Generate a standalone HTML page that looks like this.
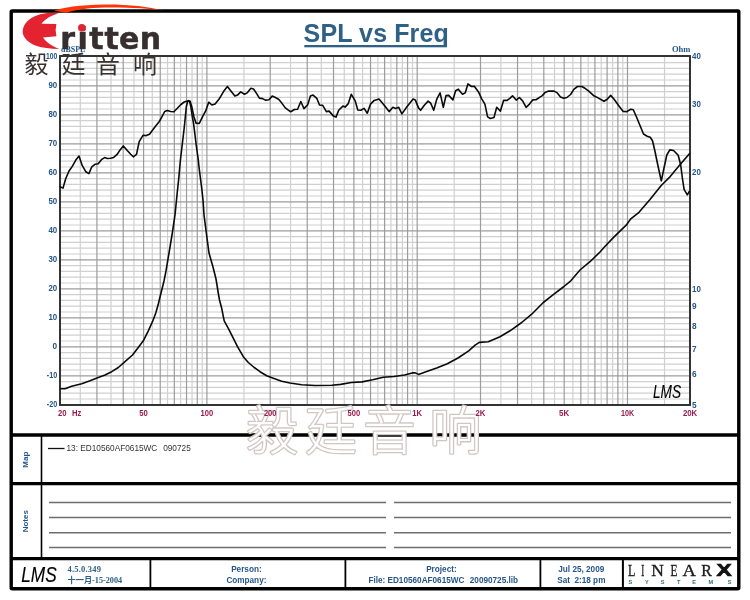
<!DOCTYPE html><html><head><meta charset="utf-8"><title>SPL vs Freq</title><style>html,body{margin:0;padding:0;background:#fff;width:750px;height:600px;overflow:hidden}svg{display:block}</style></head><body>
<svg width="750" height="600" viewBox="0 0 750 600">
<rect width="750" height="600" fill="#fff"/>
<g>
<line x1="60.0" y1="399.00" x2="690.0" y2="399.00" stroke="#d0d0d0" stroke-width="1.2"/>
<line x1="60.0" y1="393.20" x2="690.0" y2="393.20" stroke="#d0d0d0" stroke-width="1.2"/>
<line x1="60.0" y1="387.40" x2="690.0" y2="387.40" stroke="#d0d0d0" stroke-width="1.2"/>
<line x1="60.0" y1="381.60" x2="690.0" y2="381.60" stroke="#d0d0d0" stroke-width="1.2"/>
<line x1="60.0" y1="370.00" x2="690.0" y2="370.00" stroke="#d0d0d0" stroke-width="1.2"/>
<line x1="60.0" y1="364.20" x2="690.0" y2="364.20" stroke="#d0d0d0" stroke-width="1.2"/>
<line x1="60.0" y1="358.40" x2="690.0" y2="358.40" stroke="#d0d0d0" stroke-width="1.2"/>
<line x1="60.0" y1="352.60" x2="690.0" y2="352.60" stroke="#d0d0d0" stroke-width="1.2"/>
<line x1="60.0" y1="341.00" x2="690.0" y2="341.00" stroke="#d0d0d0" stroke-width="1.2"/>
<line x1="60.0" y1="335.20" x2="690.0" y2="335.20" stroke="#d0d0d0" stroke-width="1.2"/>
<line x1="60.0" y1="329.40" x2="690.0" y2="329.40" stroke="#d0d0d0" stroke-width="1.2"/>
<line x1="60.0" y1="323.60" x2="690.0" y2="323.60" stroke="#d0d0d0" stroke-width="1.2"/>
<line x1="60.0" y1="312.00" x2="690.0" y2="312.00" stroke="#d0d0d0" stroke-width="1.2"/>
<line x1="60.0" y1="306.20" x2="690.0" y2="306.20" stroke="#d0d0d0" stroke-width="1.2"/>
<line x1="60.0" y1="300.40" x2="690.0" y2="300.40" stroke="#d0d0d0" stroke-width="1.2"/>
<line x1="60.0" y1="294.60" x2="690.0" y2="294.60" stroke="#d0d0d0" stroke-width="1.2"/>
<line x1="60.0" y1="283.00" x2="690.0" y2="283.00" stroke="#d0d0d0" stroke-width="1.2"/>
<line x1="60.0" y1="277.20" x2="690.0" y2="277.20" stroke="#d0d0d0" stroke-width="1.2"/>
<line x1="60.0" y1="271.40" x2="690.0" y2="271.40" stroke="#d0d0d0" stroke-width="1.2"/>
<line x1="60.0" y1="265.60" x2="690.0" y2="265.60" stroke="#d0d0d0" stroke-width="1.2"/>
<line x1="60.0" y1="254.00" x2="690.0" y2="254.00" stroke="#d0d0d0" stroke-width="1.2"/>
<line x1="60.0" y1="248.20" x2="690.0" y2="248.20" stroke="#d0d0d0" stroke-width="1.2"/>
<line x1="60.0" y1="242.40" x2="690.0" y2="242.40" stroke="#d0d0d0" stroke-width="1.2"/>
<line x1="60.0" y1="236.60" x2="690.0" y2="236.60" stroke="#d0d0d0" stroke-width="1.2"/>
<line x1="60.0" y1="225.00" x2="690.0" y2="225.00" stroke="#d0d0d0" stroke-width="1.2"/>
<line x1="60.0" y1="219.20" x2="690.0" y2="219.20" stroke="#d0d0d0" stroke-width="1.2"/>
<line x1="60.0" y1="213.40" x2="690.0" y2="213.40" stroke="#d0d0d0" stroke-width="1.2"/>
<line x1="60.0" y1="207.60" x2="690.0" y2="207.60" stroke="#d0d0d0" stroke-width="1.2"/>
<line x1="60.0" y1="196.00" x2="690.0" y2="196.00" stroke="#d0d0d0" stroke-width="1.2"/>
<line x1="60.0" y1="190.20" x2="690.0" y2="190.20" stroke="#d0d0d0" stroke-width="1.2"/>
<line x1="60.0" y1="184.40" x2="690.0" y2="184.40" stroke="#d0d0d0" stroke-width="1.2"/>
<line x1="60.0" y1="178.60" x2="690.0" y2="178.60" stroke="#d0d0d0" stroke-width="1.2"/>
<line x1="60.0" y1="167.00" x2="690.0" y2="167.00" stroke="#d0d0d0" stroke-width="1.2"/>
<line x1="60.0" y1="161.20" x2="690.0" y2="161.20" stroke="#d0d0d0" stroke-width="1.2"/>
<line x1="60.0" y1="155.40" x2="690.0" y2="155.40" stroke="#d0d0d0" stroke-width="1.2"/>
<line x1="60.0" y1="149.60" x2="690.0" y2="149.60" stroke="#d0d0d0" stroke-width="1.2"/>
<line x1="60.0" y1="138.00" x2="690.0" y2="138.00" stroke="#d0d0d0" stroke-width="1.2"/>
<line x1="60.0" y1="132.20" x2="690.0" y2="132.20" stroke="#d0d0d0" stroke-width="1.2"/>
<line x1="60.0" y1="126.40" x2="690.0" y2="126.40" stroke="#d0d0d0" stroke-width="1.2"/>
<line x1="60.0" y1="120.60" x2="690.0" y2="120.60" stroke="#d0d0d0" stroke-width="1.2"/>
<line x1="60.0" y1="109.00" x2="690.0" y2="109.00" stroke="#d0d0d0" stroke-width="1.2"/>
<line x1="60.0" y1="103.20" x2="690.0" y2="103.20" stroke="#d0d0d0" stroke-width="1.2"/>
<line x1="60.0" y1="97.40" x2="690.0" y2="97.40" stroke="#d0d0d0" stroke-width="1.2"/>
<line x1="60.0" y1="91.60" x2="690.0" y2="91.60" stroke="#d0d0d0" stroke-width="1.2"/>
<line x1="60.0" y1="80.00" x2="690.0" y2="80.00" stroke="#d0d0d0" stroke-width="1.2"/>
<line x1="60.0" y1="74.20" x2="690.0" y2="74.20" stroke="#d0d0d0" stroke-width="1.2"/>
<line x1="60.0" y1="68.40" x2="690.0" y2="68.40" stroke="#d0d0d0" stroke-width="1.2"/>
<line x1="60.0" y1="62.60" x2="690.0" y2="62.60" stroke="#d0d0d0" stroke-width="1.2"/>
<line x1="80.28" y1="56.0" x2="80.28" y2="405.0" stroke="#d0d0d0" stroke-width="1.2"/>
<line x1="96.93" y1="56.0" x2="96.93" y2="405.0" stroke="#9c9c9c" stroke-width="1.2"/>
<line x1="111.01" y1="56.0" x2="111.01" y2="405.0" stroke="#d0d0d0" stroke-width="1.2"/>
<line x1="123.21" y1="56.0" x2="123.21" y2="405.0" stroke="#9c9c9c" stroke-width="1.2"/>
<line x1="133.96" y1="56.0" x2="133.96" y2="405.0" stroke="#d0d0d0" stroke-width="1.2"/>
<line x1="143.59" y1="56.0" x2="143.59" y2="405.0" stroke="#9c9c9c" stroke-width="1.2"/>
<line x1="152.29" y1="56.0" x2="152.29" y2="405.0" stroke="#d0d0d0" stroke-width="1.2"/>
<line x1="160.24" y1="56.0" x2="160.24" y2="405.0" stroke="#9c9c9c" stroke-width="1.2"/>
<line x1="167.55" y1="56.0" x2="167.55" y2="405.0" stroke="#d0d0d0" stroke-width="1.2"/>
<line x1="174.32" y1="56.0" x2="174.32" y2="405.0" stroke="#9c9c9c" stroke-width="1.2"/>
<line x1="180.62" y1="56.0" x2="180.62" y2="405.0" stroke="#d0d0d0" stroke-width="1.2"/>
<line x1="186.51" y1="56.0" x2="186.51" y2="405.0" stroke="#9c9c9c" stroke-width="1.2"/>
<line x1="192.05" y1="56.0" x2="192.05" y2="405.0" stroke="#d0d0d0" stroke-width="1.2"/>
<line x1="197.27" y1="56.0" x2="197.27" y2="405.0" stroke="#9c9c9c" stroke-width="1.2"/>
<line x1="202.21" y1="56.0" x2="202.21" y2="405.0" stroke="#d0d0d0" stroke-width="1.2"/>
<line x1="206.89" y1="56.0" x2="206.89" y2="405.0" stroke="#9c9c9c" stroke-width="1.2"/>
<line x1="243.93" y1="56.0" x2="243.93" y2="405.0" stroke="#d0d0d0" stroke-width="1.2"/>
<line x1="270.20" y1="56.0" x2="270.20" y2="405.0" stroke="#9c9c9c" stroke-width="1.2"/>
<line x1="290.58" y1="56.0" x2="290.58" y2="405.0" stroke="#d0d0d0" stroke-width="1.2"/>
<line x1="307.23" y1="56.0" x2="307.23" y2="405.0" stroke="#9c9c9c" stroke-width="1.2"/>
<line x1="321.31" y1="56.0" x2="321.31" y2="405.0" stroke="#d0d0d0" stroke-width="1.2"/>
<line x1="333.51" y1="56.0" x2="333.51" y2="405.0" stroke="#9c9c9c" stroke-width="1.2"/>
<line x1="344.26" y1="56.0" x2="344.26" y2="405.0" stroke="#d0d0d0" stroke-width="1.2"/>
<line x1="353.89" y1="56.0" x2="353.89" y2="405.0" stroke="#9c9c9c" stroke-width="1.2"/>
<line x1="362.59" y1="56.0" x2="362.59" y2="405.0" stroke="#d0d0d0" stroke-width="1.2"/>
<line x1="370.54" y1="56.0" x2="370.54" y2="405.0" stroke="#9c9c9c" stroke-width="1.2"/>
<line x1="377.85" y1="56.0" x2="377.85" y2="405.0" stroke="#d0d0d0" stroke-width="1.2"/>
<line x1="384.62" y1="56.0" x2="384.62" y2="405.0" stroke="#9c9c9c" stroke-width="1.2"/>
<line x1="390.92" y1="56.0" x2="390.92" y2="405.0" stroke="#d0d0d0" stroke-width="1.2"/>
<line x1="396.81" y1="56.0" x2="396.81" y2="405.0" stroke="#9c9c9c" stroke-width="1.2"/>
<line x1="402.35" y1="56.0" x2="402.35" y2="405.0" stroke="#d0d0d0" stroke-width="1.2"/>
<line x1="407.57" y1="56.0" x2="407.57" y2="405.0" stroke="#9c9c9c" stroke-width="1.2"/>
<line x1="412.51" y1="56.0" x2="412.51" y2="405.0" stroke="#d0d0d0" stroke-width="1.2"/>
<line x1="417.19" y1="56.0" x2="417.19" y2="405.0" stroke="#9c9c9c" stroke-width="1.2"/>
<line x1="454.23" y1="56.0" x2="454.23" y2="405.0" stroke="#d0d0d0" stroke-width="1.2"/>
<line x1="480.50" y1="56.0" x2="480.50" y2="405.0" stroke="#9c9c9c" stroke-width="1.2"/>
<line x1="500.88" y1="56.0" x2="500.88" y2="405.0" stroke="#d0d0d0" stroke-width="1.2"/>
<line x1="517.53" y1="56.0" x2="517.53" y2="405.0" stroke="#9c9c9c" stroke-width="1.2"/>
<line x1="531.61" y1="56.0" x2="531.61" y2="405.0" stroke="#d0d0d0" stroke-width="1.2"/>
<line x1="543.81" y1="56.0" x2="543.81" y2="405.0" stroke="#9c9c9c" stroke-width="1.2"/>
<line x1="554.56" y1="56.0" x2="554.56" y2="405.0" stroke="#d0d0d0" stroke-width="1.2"/>
<line x1="564.19" y1="56.0" x2="564.19" y2="405.0" stroke="#9c9c9c" stroke-width="1.2"/>
<line x1="572.89" y1="56.0" x2="572.89" y2="405.0" stroke="#d0d0d0" stroke-width="1.2"/>
<line x1="580.84" y1="56.0" x2="580.84" y2="405.0" stroke="#9c9c9c" stroke-width="1.2"/>
<line x1="588.15" y1="56.0" x2="588.15" y2="405.0" stroke="#d0d0d0" stroke-width="1.2"/>
<line x1="594.92" y1="56.0" x2="594.92" y2="405.0" stroke="#9c9c9c" stroke-width="1.2"/>
<line x1="601.22" y1="56.0" x2="601.22" y2="405.0" stroke="#d0d0d0" stroke-width="1.2"/>
<line x1="607.11" y1="56.0" x2="607.11" y2="405.0" stroke="#9c9c9c" stroke-width="1.2"/>
<line x1="612.65" y1="56.0" x2="612.65" y2="405.0" stroke="#d0d0d0" stroke-width="1.2"/>
<line x1="617.87" y1="56.0" x2="617.87" y2="405.0" stroke="#9c9c9c" stroke-width="1.2"/>
<line x1="622.81" y1="56.0" x2="622.81" y2="405.0" stroke="#d0d0d0" stroke-width="1.2"/>
<line x1="627.49" y1="56.0" x2="627.49" y2="405.0" stroke="#9c9c9c" stroke-width="1.2"/>
<line x1="664.53" y1="56.0" x2="664.53" y2="405.0" stroke="#d0d0d0" stroke-width="1.2"/>
<line x1="60.0" y1="375.80" x2="690.0" y2="375.80" stroke="#9c9c9c" stroke-width="1.2"/>
<line x1="60.0" y1="346.80" x2="690.0" y2="346.80" stroke="#9c9c9c" stroke-width="1.2"/>
<line x1="60.0" y1="317.80" x2="690.0" y2="317.80" stroke="#9c9c9c" stroke-width="1.2"/>
<line x1="60.0" y1="288.80" x2="690.0" y2="288.80" stroke="#9c9c9c" stroke-width="1.2"/>
<line x1="60.0" y1="259.80" x2="690.0" y2="259.80" stroke="#9c9c9c" stroke-width="1.2"/>
<line x1="60.0" y1="230.80" x2="690.0" y2="230.80" stroke="#9c9c9c" stroke-width="1.2"/>
<line x1="60.0" y1="201.80" x2="690.0" y2="201.80" stroke="#9c9c9c" stroke-width="1.2"/>
<line x1="60.0" y1="172.80" x2="690.0" y2="172.80" stroke="#9c9c9c" stroke-width="1.2"/>
<line x1="60.0" y1="143.80" x2="690.0" y2="143.80" stroke="#9c9c9c" stroke-width="1.2"/>
<line x1="60.0" y1="114.80" x2="690.0" y2="114.80" stroke="#9c9c9c" stroke-width="1.2"/>
<line x1="60.0" y1="85.80" x2="690.0" y2="85.80" stroke="#9c9c9c" stroke-width="1.2"/>
</g>
<rect x="60.0" y="56.0" width="630.0" height="349.0" fill="none" stroke="#333" stroke-width="2"/>
<polyline points="60.5,388.7 65.0,388.7 71.7,386.3 81.7,383.7 90.0,380.8 98.3,377.5 105.0,375.0 111.7,371.7 118.3,367.5 125.0,361.7 132.5,355.0 138.3,347.5 143.3,340.8 148.3,330.8 152.5,321.7 155.8,313.0 158.3,304.0 160.5,295.0 164.0,281.0 166.0,271.0 169.0,253.0 172.0,235.0 175.0,215.0 177.0,195.0 178.8,178.0 180.4,160.0 181.6,150.0 184.2,128.0 186.3,107.0 187.6,101.6 188.4,100.6 189.6,101.6 190.8,106.5 192.3,116.7 193.5,123.0 195.0,135.0 196.2,145.0 198.3,160.0 199.0,167.0 201.8,189.0 203.0,200.0 204.0,215.0 206.6,235.0 209.0,253.0 213.0,267.0 216.0,279.0 218.6,295.0 219.5,300.0 221.7,308.3 224.2,320.8 228.3,328.3 232.5,336.7 237.5,346.7 243.3,356.7 248.3,362.5 254.2,367.5 260.0,371.7 266.7,375.8 273.3,378.3 281.7,381.3 290.0,383.0 301.7,384.7 315.0,385.5 331.7,385.3 340.7,384.4 351.3,382.5 362.0,381.9 372.7,379.7 383.3,377.2 394.0,376.5 404.7,375.0 412.1,372.9 415.3,372.9 418.5,374.4 426.0,371.8 436.7,368.0 447.3,363.7 458.0,358.0 468.7,350.9 475.1,345.2 479.3,342.4 488.3,341.7 500.0,336.7 510.0,330.8 521.7,322.5 531.7,314.2 543.3,302.5 553.3,294.7 563.3,287.0 570.8,280.8 580.0,270.0 590.0,261.7 600.0,252.0 604.2,247.2 613.3,237.6 626.2,225.2 630.8,218.8 639.0,212.3 650.0,199.5 661.0,185.8 670.2,176.6 679.3,165.6 689.4,153.7" fill="none" stroke="#0a0a0a" stroke-width="1.6" stroke-linejoin="round" stroke-linecap="round"/>
<polyline points="60.1,186.7 63.0,188.1 65.7,178.7 68.9,171.3 72.6,165.9 75.8,160.1 79.0,156.1 82.2,165.4 85.9,171.8 88.9,173.6 91.8,166.8 95.0,164.3 98.2,163.8 101.4,159.7 104.6,157.6 107.3,158.5 110.5,158.3 113.7,157.4 116.9,154.7 120.1,149.9 123.3,145.9 127.5,150.8 130.7,154.2 133.3,156.8 136.5,154.4 139.2,141.6 143.0,135.3 146.3,135.6 149.5,134.2 154.9,127.0 159.3,121.5 162.0,116.7 164.7,111.5 167.4,110.4 170.6,111.5 173.9,111.8 177.1,108.5 180.9,104.5 184.2,102.0 187.4,101.0 190.1,101.0 191.8,106.9 193.9,116.7 196.1,123.2 199.3,123.4 202.6,116.7 205.8,110.7 208.7,102.2 211.9,105.0 215.1,103.9 218.9,99.3 223.7,91.3 227.4,86.5 231.1,91.3 234.9,96.1 237.5,95.1 240.7,91.9 244.5,94.3 247.1,92.9 250.9,88.3 253.5,89.0 256.2,92.9 259.4,98.1 262.6,98.6 265.3,100.1 269.0,99.7 272.2,96.1 275.4,97.5 278.6,99.3 281.8,103.1 285.3,107.9 290.7,111.8 294.4,109.5 297.6,109.3 300.8,101.5 304.0,108.6 307.7,104.7 310.4,96.1 313.1,95.1 316.8,98.3 319.5,105.0 322.7,105.4 326.4,111.6 329.1,111.1 333.3,115.9 336.0,117.1 338.7,110.3 342.9,106.1 345.1,107.1 348.3,103.6 351.3,94.3 355.2,100.9 357.8,110.0 360.9,110.3 364.1,108.4 367.3,113.2 370.5,104.1 374.2,100.4 379.0,99.0 383.8,104.7 389.1,111.6 392.9,107.3 395.5,108.4 398.7,107.3 401.9,113.9 407.3,106.3 413.1,99.0 415.3,99.9 418.5,107.9 420.6,110.3 424.3,105.2 428.1,101.1 430.7,103.1 433.7,110.3 436.9,98.8 440.1,92.9 443.3,107.3 446.0,95.6 448.7,95.4 452.9,99.9 455.6,90.8 458.3,89.2 462.5,94.3 465.2,92.9 467.9,83.9 471.6,86.5 474.3,86.3 478.5,91.9 481.7,98.8 484.9,104.1 487.6,116.9 490.3,118.5 494.0,117.5 496.7,107.3 500.4,111.1 503.6,100.4 507.1,100.4 509.8,98.3 512.5,95.8 516.2,100.1 519.4,97.5 522.6,100.9 526.1,107.3 529.5,104.1 532.7,99.9 535.9,99.7 539.1,97.7 542.3,95.6 545.0,92.6 548.7,91.1 554.1,91.1 557.3,92.9 560.5,96.9 563.7,98.3 566.9,97.5 570.6,94.5 573.8,89.4 577.5,86.5 581.8,86.5 585.0,88.3 588.5,90.8 593.9,95.8 598.1,97.9 604.0,101.3 607.2,99.3 610.7,95.4 614.1,99.3 618.4,105.2 623.2,111.4 626.9,111.6 630.7,109.3 633.3,109.7 636.6,117.2 639.8,125.0 643.5,134.0 647.2,136.2 650.2,137.3 652.5,140.8 654.8,150.5 657.9,165.5 661.3,180.8 664.0,168.0 666.8,155.0 669.8,149.9 673.6,150.5 678.2,155.2 680.7,165.0 682.5,179.0 684.1,189.4 687.3,194.8 689.3,191.5" fill="none" stroke="#0a0a0a" stroke-width="1.6" stroke-linejoin="round" stroke-linecap="round"/>
<text x="61" y="51.5" style="font-family:'Liberation Serif',serif;font-weight:bold;font-size:8px" fill="#24558a">dBSPL</text>
<path d="M58.7,13.5 C50,11.5 38,13.5 30,19 C22,25 21,33 25,38 C30,45 40,48.5 59.5,49.1 C52,46 47,43 43,37.4 L56.4,36.2 Q54.8,30.5 56.4,24.1 L41.5,23.7 C45,19 51,15.5 58.7,13.5 Z" fill="#e3232f"/>
<text x="60.3 77.4 89.2 104.4 119.0 139.8" y="48.6" style="font-family:'DejaVu Sans',sans-serif;font-weight:bold;font-size:30px;paint-order:stroke" stroke="#372f2f" stroke-width="0.5" fill="#372f2f">ritten</text>
<circle cx="81.8" cy="27.7" r="3.8" fill="#e3232f"/>
<text x="24.6 61.5 96 133" y="73" style="font-family:'Liberation Sans','Noto Sans CJK SC',sans-serif;font-size:24px" fill="#3a3232">毅廷音响</text>
<text x="57.2" y="407.3" text-anchor="end" style="font-family:'Liberation Sans',sans-serif;font-weight:bold;font-size:9px" fill="#24558a" textLength="10.4" lengthAdjust="spacingAndGlyphs">-20</text>
<text x="57.2" y="378.3" text-anchor="end" style="font-family:'Liberation Sans',sans-serif;font-weight:bold;font-size:9px" fill="#24558a" textLength="10.4" lengthAdjust="spacingAndGlyphs">-10</text>
<text x="57.2" y="349.3" text-anchor="end" style="font-family:'Liberation Sans',sans-serif;font-weight:bold;font-size:9px" fill="#24558a" textLength="4.6" lengthAdjust="spacingAndGlyphs">0</text>
<text x="57.2" y="320.3" text-anchor="end" style="font-family:'Liberation Sans',sans-serif;font-weight:bold;font-size:9px" fill="#24558a" textLength="8.8" lengthAdjust="spacingAndGlyphs">10</text>
<text x="57.2" y="291.3" text-anchor="end" style="font-family:'Liberation Sans',sans-serif;font-weight:bold;font-size:9px" fill="#24558a" textLength="8.8" lengthAdjust="spacingAndGlyphs">20</text>
<text x="57.2" y="262.3" text-anchor="end" style="font-family:'Liberation Sans',sans-serif;font-weight:bold;font-size:9px" fill="#24558a" textLength="8.8" lengthAdjust="spacingAndGlyphs">30</text>
<text x="57.2" y="233.3" text-anchor="end" style="font-family:'Liberation Sans',sans-serif;font-weight:bold;font-size:9px" fill="#24558a" textLength="8.8" lengthAdjust="spacingAndGlyphs">40</text>
<text x="57.2" y="204.3" text-anchor="end" style="font-family:'Liberation Sans',sans-serif;font-weight:bold;font-size:9px" fill="#24558a" textLength="8.8" lengthAdjust="spacingAndGlyphs">50</text>
<text x="57.2" y="175.3" text-anchor="end" style="font-family:'Liberation Sans',sans-serif;font-weight:bold;font-size:9px" fill="#24558a" textLength="8.8" lengthAdjust="spacingAndGlyphs">60</text>
<text x="57.2" y="146.3" text-anchor="end" style="font-family:'Liberation Sans',sans-serif;font-weight:bold;font-size:9px" fill="#24558a" textLength="8.8" lengthAdjust="spacingAndGlyphs">70</text>
<text x="57.2" y="117.3" text-anchor="end" style="font-family:'Liberation Sans',sans-serif;font-weight:bold;font-size:9px" fill="#24558a" textLength="8.8" lengthAdjust="spacingAndGlyphs">80</text>
<text x="57.2" y="88.3" text-anchor="end" style="font-family:'Liberation Sans',sans-serif;font-weight:bold;font-size:9px" fill="#24558a" textLength="8.8" lengthAdjust="spacingAndGlyphs">90</text>
<text x="57.2" y="59.3" text-anchor="end" style="font-family:'Liberation Sans',sans-serif;font-weight:bold;font-size:9px" fill="#24558a" textLength="11.3" lengthAdjust="spacingAndGlyphs">100</text>
<text x="672" y="51.8" style="font-family:'Liberation Serif',serif;font-weight:bold;font-size:8.5px" fill="#24558a">Ohm</text>
<text x="692.1" y="59.0" style="font-family:'Liberation Sans',sans-serif;font-weight:bold;font-size:9px" fill="#24558a" textLength="8.8" lengthAdjust="spacingAndGlyphs">40</text>
<text x="692.1" y="107.3" style="font-family:'Liberation Sans',sans-serif;font-weight:bold;font-size:9px" fill="#24558a" textLength="8.8" lengthAdjust="spacingAndGlyphs">30</text>
<text x="692.1" y="175.3" style="font-family:'Liberation Sans',sans-serif;font-weight:bold;font-size:9px" fill="#24558a" textLength="8.8" lengthAdjust="spacingAndGlyphs">20</text>
<text x="692.1" y="291.7" style="font-family:'Liberation Sans',sans-serif;font-weight:bold;font-size:9px" fill="#24558a" textLength="8.8" lengthAdjust="spacingAndGlyphs">10</text>
<text x="692.1" y="309.3" style="font-family:'Liberation Sans',sans-serif;font-weight:bold;font-size:9px" fill="#24558a" textLength="4.6" lengthAdjust="spacingAndGlyphs">9</text>
<text x="692.1" y="329.1" style="font-family:'Liberation Sans',sans-serif;font-weight:bold;font-size:9px" fill="#24558a" textLength="4.6" lengthAdjust="spacingAndGlyphs">8</text>
<text x="692.1" y="351.5" style="font-family:'Liberation Sans',sans-serif;font-weight:bold;font-size:9px" fill="#24558a" textLength="4.6" lengthAdjust="spacingAndGlyphs">7</text>
<text x="692.1" y="377.4" style="font-family:'Liberation Sans',sans-serif;font-weight:bold;font-size:9px" fill="#24558a" textLength="4.6" lengthAdjust="spacingAndGlyphs">6</text>
<text x="692.1" y="408.0" style="font-family:'Liberation Sans',sans-serif;font-weight:bold;font-size:9px" fill="#24558a" textLength="4.6" lengthAdjust="spacingAndGlyphs">5</text>
<text x="653" y="397.6" style="font-family:'Liberation Sans',sans-serif;font-style:italic;font-size:18px;paint-order:stroke" fill="#000" stroke="#000" stroke-width="0.15" textLength="28" lengthAdjust="spacingAndGlyphs">LMS</text>
<text x="376.2" y="42.2" text-anchor="middle" style="font-family:'Liberation Sans',sans-serif;font-weight:bold;font-size:25px;letter-spacing:0.1px" fill="#2f6085">SPL vs Freq</text>
<rect x="304.3" y="45" width="142.7" height="2.3" fill="#2f6085"/>
<rect x="11.2" y="11.0" width="727.6" height="577.7" rx="1" fill="none" stroke="#000" stroke-width="3.4"/>
<line x1="11" y1="435" x2="739" y2="435" stroke="#000" stroke-width="3.5"/>
<line x1="11" y1="483.6" x2="739" y2="483.6" stroke="#000" stroke-width="3.4"/>
<line x1="11" y1="558.6" x2="739" y2="558.6" stroke="#000" stroke-width="3.4"/>
<line x1="41.5" y1="435" x2="41.5" y2="558.5" stroke="#000" stroke-width="1.6"/>
<line x1="150.4" y1="558.5" x2="150.4" y2="588.5" stroke="#000" stroke-width="1.8"/>
<line x1="345.4" y1="558.5" x2="345.4" y2="588.5" stroke="#000" stroke-width="1.8"/>
<line x1="540.4" y1="558.5" x2="540.4" y2="588.5" stroke="#000" stroke-width="1.8"/>
<line x1="622.9" y1="558.5" x2="622.9" y2="588.5" stroke="#000" stroke-width="2.0"/>
<line x1="49" y1="502.5" x2="386" y2="502.5" stroke="#6e6e6e" stroke-width="1.5"/>
<line x1="394" y1="502.5" x2="731" y2="502.5" stroke="#6e6e6e" stroke-width="1.5"/>
<line x1="49" y1="517.5" x2="386" y2="517.5" stroke="#6e6e6e" stroke-width="1.5"/>
<line x1="394" y1="517.5" x2="731" y2="517.5" stroke="#6e6e6e" stroke-width="1.5"/>
<line x1="49" y1="532.7" x2="386" y2="532.7" stroke="#6e6e6e" stroke-width="1.5"/>
<line x1="394" y1="532.7" x2="731" y2="532.7" stroke="#6e6e6e" stroke-width="1.5"/>
<line x1="49" y1="547.6" x2="386" y2="547.6" stroke="#6e6e6e" stroke-width="1.5"/>
<line x1="394" y1="547.6" x2="731" y2="547.6" stroke="#6e6e6e" stroke-width="1.5"/>
<text transform="translate(28.0,459.7) rotate(-90)" text-anchor="middle" style="font-family:'Liberation Sans',sans-serif;font-weight:bold;font-size:8px" fill="#24558a">Map</text>
<text transform="translate(28.3,521.2) rotate(-90)" text-anchor="middle" style="font-family:'Liberation Sans',sans-serif;font-weight:bold;font-size:8px" fill="#24558a">Notes</text>
<line x1="48" y1="448.5" x2="64.5" y2="448.5" stroke="#111" stroke-width="1.3"/>
<text x="66.5" y="451.3" style="font-family:'Liberation Sans',sans-serif;font-size:8.25px" fill="#333">13: ED10560AF0615WC</text>
<text x="163.2" y="451.3" style="font-family:'Liberation Sans',sans-serif;font-size:8.25px" fill="#333">090725</text>
<text x="67.5" y="571.7" style="font-family:'Liberation Serif',serif;font-weight:bold;font-size:8.5px;letter-spacing:0.2px" fill="#2c5f80">4.5.0.349</text>
<text x="67.5" y="582.9" style="font-family:'Liberation Serif','Noto Sans CJK SC',serif;font-weight:bold;font-size:8.5px" fill="#2c5f80" textLength="54.6" lengthAdjust="spacingAndGlyphs">十一月-15-2004</text>
<text x="21.3" y="582.3" style="font-family:'Liberation Sans',sans-serif;font-style:italic;font-size:21.5px;paint-order:stroke" fill="#000" stroke="#000" stroke-width="0.15" textLength="35.4" lengthAdjust="spacingAndGlyphs">LMS</text>
<text x="246.4" y="571.6" text-anchor="middle" style="font-family:'Liberation Sans',sans-serif;font-weight:bold;font-size:8.2px" fill="#24558a">Person:</text>
<text x="246.4" y="583.0" text-anchor="middle" style="font-family:'Liberation Sans',sans-serif;font-weight:bold;font-size:8.2px" fill="#24558a">Company:</text>
<text x="441.4" y="571.6" text-anchor="middle" style="font-family:'Liberation Sans',sans-serif;font-weight:bold;font-size:8.2px" fill="#24558a">Project:</text>
<text x="368.4" y="583.0" style="font-family:'Liberation Sans',sans-serif;font-weight:bold;font-size:8.2px" fill="#24558a">File: ED10560AF0615WC</text>
<text x="469.8" y="583.0" style="font-family:'Liberation Sans',sans-serif;font-weight:bold;font-size:8.2px" fill="#24558a">20090725.lib</text>
<text x="581.3" y="571.6" text-anchor="middle" style="font-family:'Liberation Sans',sans-serif;font-weight:bold;font-size:8.2px" fill="#24558a">Jul 25, 2009</text>
<text x="581.3" y="583.0" text-anchor="middle" style="font-family:'Liberation Sans',sans-serif;font-weight:bold;font-size:8.2px" fill="#24558a" xml:space="preserve">Sat  2:18 pm</text>
<text x="628.1" y="575.6" style="font-family:'Liberation Serif',serif;font-size:17.5px;paint-order:stroke" fill="#1a1a1a" stroke="#1a1a1a" stroke-width="0.35" textLength="7.4" lengthAdjust="spacingAndGlyphs">L</text>
<text x="641.3" y="575.6" style="font-family:'Liberation Serif',serif;font-size:17.5px;paint-order:stroke" fill="#1a1a1a" stroke="#1a1a1a" stroke-width="0.35" textLength="3.0" lengthAdjust="spacingAndGlyphs">I</text>
<text x="651.3" y="575.6" style="font-family:'Liberation Serif',serif;font-size:17.5px;paint-order:stroke" fill="#1a1a1a" stroke="#1a1a1a" stroke-width="0.35" textLength="12.6" lengthAdjust="spacingAndGlyphs">N</text>
<text x="670.5" y="575.6" style="font-family:'Liberation Serif',serif;font-size:17.5px;paint-order:stroke" fill="#1a1a1a" stroke="#1a1a1a" stroke-width="0.35" textLength="7.0" lengthAdjust="spacingAndGlyphs">E</text>
<text x="682.5" y="575.6" style="font-family:'Liberation Serif',serif;font-size:17.5px;paint-order:stroke" fill="#1a1a1a" stroke="#1a1a1a" stroke-width="0.35" textLength="13.4" lengthAdjust="spacingAndGlyphs">A</text>
<text x="701.3" y="575.6" style="font-family:'Liberation Serif',serif;font-size:17.5px;paint-order:stroke" fill="#1a1a1a" stroke="#1a1a1a" stroke-width="0.35" textLength="10.6" lengthAdjust="spacingAndGlyphs">R</text>
<text x="716.4" y="575.6" style="font-family:'Liberation Sans',sans-serif;font-weight:bold;font-size:16px;paint-order:stroke" stroke="#111" stroke-width="0.7" fill="#111" textLength="15.2" lengthAdjust="spacingAndGlyphs">X</text>
<text x="628.6 645.0 660.8 677.0 692.2 708.6 727.8" y="583.7" style="font-family:'Liberation Sans',sans-serif;font-weight:bold;font-size:5.6px" fill="#2f6f80">SYSTEMS</text>
<text x="246 305 363.5 429.5" y="450" style="font-family:'Liberation Sans','Noto Sans CJK SC',sans-serif;font-weight:300;font-size:52px;paint-order:stroke" fill="#fff" stroke="#d0c6c6" stroke-width="2.6" stroke-linejoin="round">毅廷音响</text>
<text x="143.6" y="415.8" text-anchor="middle" style="font-family:'Liberation Sans',sans-serif;font-weight:bold;font-size:9.2px" fill="#9a1c4e" textLength="8.6" lengthAdjust="spacingAndGlyphs">50</text>
<text x="206.9" y="415.8" text-anchor="middle" style="font-family:'Liberation Sans',sans-serif;font-weight:bold;font-size:9.2px" fill="#9a1c4e" textLength="12.6" lengthAdjust="spacingAndGlyphs">100</text>
<text x="270.2" y="415.8" text-anchor="middle" style="font-family:'Liberation Sans',sans-serif;font-weight:bold;font-size:9.2px" fill="#9a1c4e" textLength="12.6" lengthAdjust="spacingAndGlyphs">200</text>
<text x="353.9" y="415.8" text-anchor="middle" style="font-family:'Liberation Sans',sans-serif;font-weight:bold;font-size:9.2px" fill="#9a1c4e" textLength="12.6" lengthAdjust="spacingAndGlyphs">500</text>
<text x="417.2" y="415.8" text-anchor="middle" style="font-family:'Liberation Sans',sans-serif;font-weight:bold;font-size:9.2px" fill="#9a1c4e" textLength="9.8" lengthAdjust="spacingAndGlyphs">1K</text>
<text x="480.5" y="415.8" text-anchor="middle" style="font-family:'Liberation Sans',sans-serif;font-weight:bold;font-size:9.2px" fill="#9a1c4e" textLength="10.0" lengthAdjust="spacingAndGlyphs">2K</text>
<text x="564.2" y="415.8" text-anchor="middle" style="font-family:'Liberation Sans',sans-serif;font-weight:bold;font-size:9.2px" fill="#9a1c4e" textLength="10.2" lengthAdjust="spacingAndGlyphs">5K</text>
<text x="627.5" y="415.8" text-anchor="middle" style="font-family:'Liberation Sans',sans-serif;font-weight:bold;font-size:9.2px" fill="#9a1c4e" textLength="13.2" lengthAdjust="spacingAndGlyphs">10K</text>
<text x="690.1" y="415.8" text-anchor="middle" style="font-family:'Liberation Sans',sans-serif;font-weight:bold;font-size:9.2px" fill="#9a1c4e" textLength="14.4" lengthAdjust="spacingAndGlyphs">20K</text>
<text x="57.9" y="415.8" style="font-family:'Liberation Sans',sans-serif;font-weight:bold;font-size:9.2px" fill="#9a1c4e" textLength="8.6" lengthAdjust="spacingAndGlyphs">20</text>
<text x="71.9" y="415.8" style="font-family:'Liberation Sans',sans-serif;font-weight:bold;font-size:9.2px" fill="#9a1c4e" textLength="9.3" lengthAdjust="spacingAndGlyphs">Hz</text>
<path d="M54,10.8 C62,7.6 80,4.6 105,4.4 C130,4.3 148,6.5 163.5,10.6 C148,8.4 128,7.3 105,7.6 C88,8 75,10 66,12.8 Z" fill="#ff3508"/>
</svg></body></html>
